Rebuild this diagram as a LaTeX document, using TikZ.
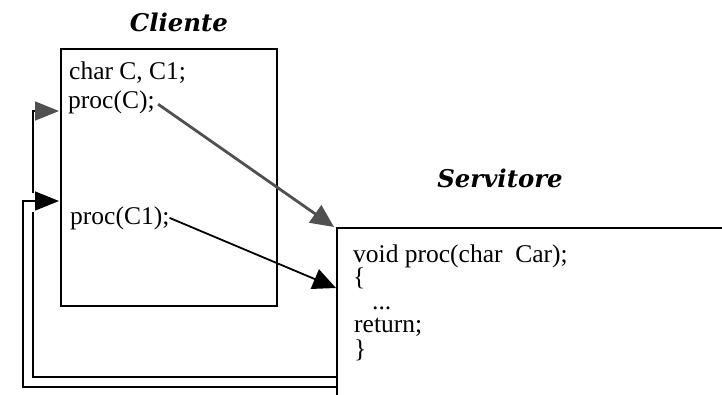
\documentclass[tikz,border=0pt]{standalone}
\usepackage{fontspec}
\setmainfont{Liberation Serif}
\newfontfamily\titlefont{DejaVu Serif}
\usetikzlibrary{arrows.meta}
\definecolor{arrgray}{HTML}{505050}
\tikzset{
  box/.style={draw=black, line width=1.8pt, inner sep=0pt, anchor=north west},
  code/.style={inner sep=0pt, anchor=base west, font=\fontsize{25.5}{23}\selectfont},
  servcode/.style={code, text height=16pt, text depth=4pt},
  ttl/.style={inner sep=0pt, anchor=base, font=\titlefont\bfseries\itshape\fontsize{24.4}{26}\selectfont},
  head/.style={-{Triangle[length=23pt,width=21pt]}},
  callgray/.style={draw=arrgray, line width=2.8pt, head, shorten <=4pt},
  callblack/.style={draw=black, line width=1.8pt, head},
  retline/.style={draw=black, line width=1.6pt},
  retgray/.style={retline, -{Triangle[length=24pt,width=19pt,color=arrgray,fill=arrgray]}},
  retblack/.style={retline, -{Triangle[length=24pt,width=19pt]}},
}
\begin{document}
\begin{tikzpicture}[x=1pt,y=-1pt]
\useasboundingbox (0,0) rectangle (722,394);
% boxes
\node[box, minimum width=216pt, minimum height=257pt] (cli) at (60,48) {};
\begin{scope}
\clip (0,0) rectangle (722,394);
\node[box, minimum width=420pt, minimum height=220pt] (serv) at (336,227) {};
\end{scope}
% titles
\node[ttl] (tcli) at (179,31) {Cliente};
\node[ttl] (tserv) at (500,187) {Servitore};
% client code
\node[code] (c1) at (69,79) {char C, C1;};
\node[code] (c2) at (68,108) {proc(C);};
\node[code] (c3) at (70,224) {proc(C1);};
% server code
\node[servcode] (s1) at (353,262) {void proc(char\ \ Car);};
\node[servcode] (s2) at (353,285) {\{};
\node[servcode] (s3) at (372,309) {...};
\node[servcode] (s4) at (354,332) {return;};
\node[servcode] (s5) at (354,357) {\}};
% anchor points
\coordinate (in0) at (334,227);
\coordinate (in1) at (336,288);
\coordinate (r1) at (336,377);
\coordinate (r2) at (336,387);
\coordinate (e1) at (59,111);
\coordinate (e2) at (59,201);
% calls
\draw[callgray] (c2.east) -- (in0);
\draw[callblack] (c3.east) -- (in1);
% returns
\draw[retgray] (r1) -- (33,377) -- (33,111) -- (e1);
\fill[white] (29,193) rectangle (37,212);
\draw[retblack] (r2) -- (23,387) -- (23,201) -- (e2);
\end{tikzpicture}
\end{document}
